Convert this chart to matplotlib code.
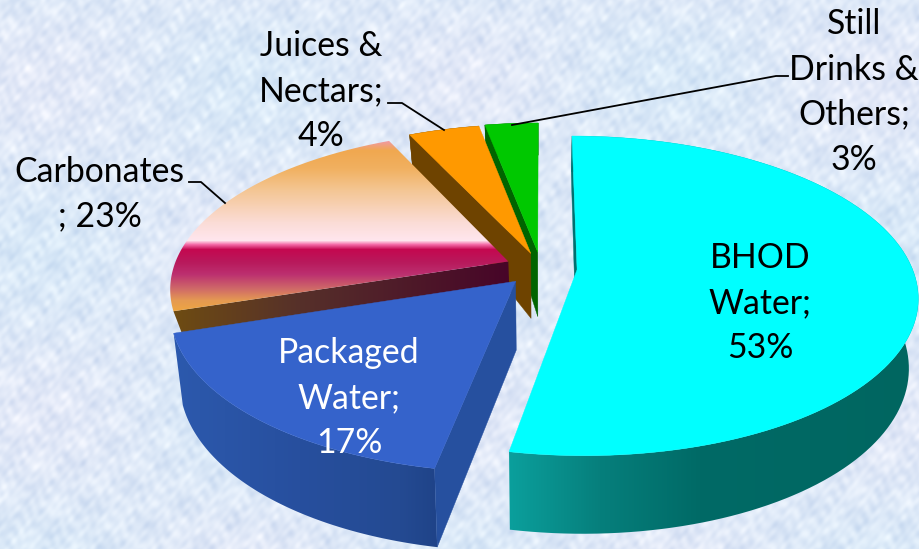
import numpy as np
import matplotlib
matplotlib.use("Agg")
import matplotlib.pyplot as plt
from matplotlib.patches import Polygon
from matplotlib.colors import to_rgb

# ---- data ----
categories = ["BHOD\nWater;\n53%", "Packaged\nWater;\n17%", "Carbonates\n; 23%", "Juices &\nNectars;\n4%", "Still\nDrinks &\nOthers;\n3%"]
values = [53, 17, 23, 4, 3]
explode = [0.108, 0.113, 0.107, 0.10, 0.105]

W, H = 920, 549
CX, CY, RX, RY, K = 541.0, 268.0, 335.0, 155.0, 0.164
SQUEEZE = 0.025
plt.rcParams["font.family"] = ["Lato", "DejaVu Sans"]

fig = plt.figure(figsize=(W / 100, H / 100), dpi=100)
ax = fig.add_axes([0, 0, 1, 1])
ax.axis("off")

# mottled backdrop: many short crossing ripples
yy, xx = np.mgrid[0:H, 0:W]
ripples = [(0.31, 0.17, 0.3), (-0.23, 0.37, 1.1), (0.41, -0.29, 2.3), (0.13, 0.47, 4.0),
           (-0.53, 0.19, 5.2), (0.59, 0.43, 0.7), (-0.37, -0.61, 3.3), (0.71, -0.11, 1.9),
           (0.09, 0.11, 2.7), (-0.14, 0.07, 0.4), (0.05, -0.16, 5.9), (0.83, 0.67, 4.4)]
amps = [1.0, 1.0, 1.0, 1.0, 0.9, 0.8, 0.8, 0.6, 1.3, 1.3, 1.2, 0.5]
tex = np.zeros((H, W))
for (fx, fy, ph), am in zip(ripples, amps):
    tex += am * np.sin(fx * xx + fy * yy + ph + 1.2 * np.sin(0.021 * xx - 0.017 * yy + ph))
lav = np.sin(xx / 67.0 + 1.0) * np.sin(yy / 53.0)
bg = np.zeros((H, W, 3))
bg[..., 0] = 222 + 2.6 * tex + 5 * lav
bg[..., 1] = 233 + 2.0 * tex
bg[..., 2] = 248 + 1.0 * tex
ax.imshow(np.clip(bg, 0, 255).astype(np.uint8), extent=(0, W, H, 0), aspect="auto", zorder=0, interpolation="bilinear")


def depth(v):
    return np.interp(v, [-1.2, 0.0, 1.2], [80.0, 68.0, 29.0])


def proj(u, v, bottom=None):
    u, v = np.asarray(u, float), np.asarray(v, float)
    s = 1.0 / (1.0 + K * v)
    x = CX + RX * u * s
    y = CY - RY * v * s
    if bottom is not None:
        x = CX + (x - CX) * (1 - SQUEEZE)
        y = y + (depth(v) if bottom == "auto" else bottom)
    return np.column_stack([x, y])


def rim(theta1, theta2, ex, ey, n=120):
    t = np.radians(np.linspace(theta1, theta2, n))
    return ex + np.sin(t), ey + np.cos(t)


z = [1]


def flat(pts, color):
    z[0] += 1
    ax.add_patch(Polygon(pts, closed=True, fc=color, ec=color, lw=0.3, zorder=z[0]))


def grad(pts, stops, axis):
    """fill polygon with gradient. stops: list of (pixel position, colour)"""
    z[0] += 1
    p = Polygon(pts, closed=True, fc="none", ec="none", transform=ax.transData)
    ax.add_patch(p)
    pos = np.array([s[0] for s in stops], float)
    cols = np.array([to_rgb(s[1]) for s in stops])
    if axis == "x":
        q = np.arange(0, W)
        arr = np.stack([np.interp(q, pos, cols[:, i]) for i in range(3)], -1)[None, :, :]
    else:
        q = np.arange(0, H)
        arr = np.stack([np.interp(q, pos, cols[:, i]) for i in range(3)], -1)[:, None, :]
    im = ax.imshow(arr, extent=(0, W, H, 0), aspect="auto", zorder=z[0], interpolation="bilinear")
    im.set_clip_path(p)


# wedge angles (clockwise from 12 o'clock)
edges = np.concatenate([[0], np.cumsum(values)]) / sum(values) * 360.0
mids = (edges[:-1] + edges[1:]) / 2
apex = [(e * np.sin(np.radians(m)), e * np.cos(np.radians(m))) for e, m in zip(explode, mids)]

top_col = ["#00ffff", "#3563cb", None, "#ff9900", "#00c800"]
side_col = ["#007070", "#26509f", None, "#6e4300", "#006400"]

CARB_TOP = [(141, "#f09aa0"), (150, "#f0a850"), (168, "#f1b060"), (190, "#f4c694"), (222, "#fbdcd6"),
            (240, "#ffe6ee"), (244, "#f46ca8"), (249, "#c40850"), (262, "#b81a5c"), (274, "#bc3070"),
            (288, "#cf6868"), (300, "#e59a52"), (312, "#f0a840")]
CARB_WALL = [(172, "#6e4c12"), (300, "#56302a"), (508, "#470528")]
PACK_RIM = [(175, "#2c59ad"), (300, "#274f9e"), (400, "#244a92"), (437, "#1f4388")]
BHOD_RIM = [(510, "#0b9f9c"), (600, "#067f7c"), (700, "#006a66"), (920, "#006660")]

# draw back to front
for i in [4, 3, 2, 1, 0]:
    ex, ey = apex[i]
    t1, t2 = edges[i], edges[i + 1]
    ru, rv = rim(t1, t2, ex, ey)
    drop = 24.0 if i == 2 else "auto"
    top_rim = proj(ru, rv)
    bot_rim = proj(ru, rv, bottom=drop)
    a_top = proj([ex], [ey])
    a_bot = proj([ex], [ey], bottom=drop)

    # rim wall
    wall = np.vstack([top_rim, bot_rim[::-1]])
    if i == 1:
        grad(wall, PACK_RIM, "x")
    elif i == 0:
        grad(wall, BHOD_RIM, "x")
    elif i != 2:
        flat(wall, side_col[i])

    # radial wall on the leading edge
    radial = np.vstack([a_top, top_rim[:1], bot_rim[:1], a_bot])
    if i == 2:
        grad(radial, CARB_WALL, "x")
    else:
        flat(radial, side_col[i])

    # top
    top = np.vstack([a_top, top_rim])
    if i == 2:
        grad(top, CARB_TOP, "y")
    else:
        flat(top, top_col[i])

# leader lines
TZ = 50
ax.plot([189, 201, 225], [182, 182, 203], color="k", lw=1.3, zorder=TZ)
ax.plot([388, 402, 444], [103, 103, 130], color="k", lw=1.3, zorder=TZ)
ax.plot([788, 776, 512], [76, 76, 125], color="k", lw=1.3, zorder=TZ)

FS = 24.3
LS = 1.5
txt = dict(ha="center", va="center", multialignment="center", fontsize=FS, linespacing=LS, zorder=TZ + 1)
ax.text(760, 303, categories[0], color="k", **txt)
ax.text(349, 398, categories[1], color="w", **txt)
ax.text(99.5, 194, categories[2], color="k", **txt)
ax.text(321, 91, categories[3], color="k", **txt)
ax.text(854, 92, categories[4], color="k", **txt)

ax.set_xlim(0, W)
ax.set_ylim(H, 0)
fig.savefig("out.png", dpi=100)
